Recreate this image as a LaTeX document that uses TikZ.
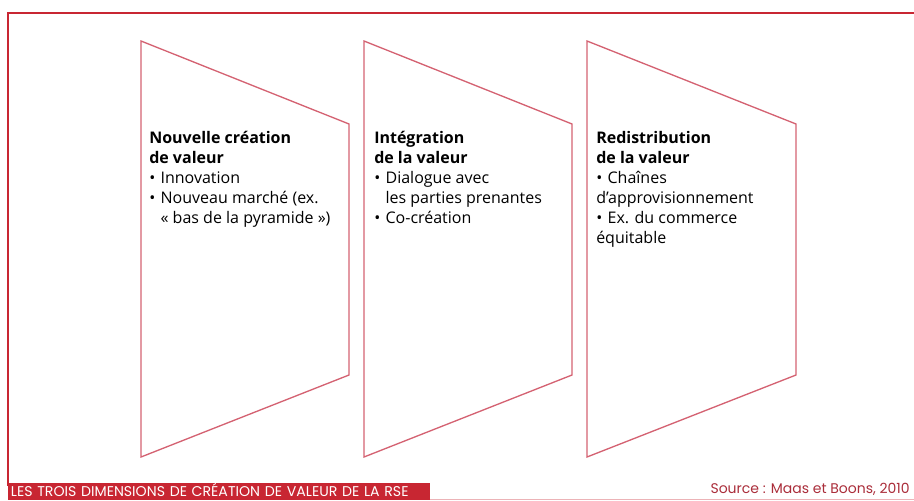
\documentclass[tikz,border=0pt]{standalone}
\usepackage{fontspec}
\setmainfont{Open Sans}
\newfontfamily\capfont{Poppins}
\usetikzlibrary{positioning}

\definecolor{framered}{RGB}{200,38,50}
\definecolor{panelred}{RGB}{212,98,114}
\definecolor{srcred}{RGB}{170,45,58}

\newcommand{\bul}{\textbullet\hspace{4pt}}

\begin{document}
\begin{tikzpicture}[x=0.75pt,y=0.75pt,yscale=-1,xscale=1,
  panel/.style={draw=panelred,line width=1pt,line join=miter},
  paneltext/.style={anchor=north west,align=left,inner sep=0pt,
    font=\fontsize{12}{15}\selectfont}]
\useasboundingbox (0,0) rectangle (914,500);

%Shape: outer frame
\draw [framered,line width=1.6pt] (914,13) -- (8,13) -- (8,486) ;
\draw [framered!35,line width=0.6pt] (430,499) -- (914,499) ;

%Shape: panel 1
\draw [panel] (141,41) -- (349,124) -- (349,375) -- (141,457) -- cycle ;
%Shape: panel 2
\draw [panel] (364,41) -- (572,124) -- (572,375) -- (364,457) -- cycle ;
%Shape: panel 3
\draw [panel] (587,41) -- (796,124) -- (796,375) -- (587,457) -- cycle ;

% Text Node
\node [paneltext] (creation) at (149,131) {\textbf{Nouvelle création}\\\textbf{de valeur}\\
  \bul Innovation\\
  \bul Nouveau marché (ex.\\
  \phantom{\bul}«~bas de la pyramide~»)};
% Text Node
\node [paneltext] (integration) at (374,131) {\textbf{Intégration}\\\textbf{de la valeur}\\
  \bul Dialogue avec\\
  \phantom{\bul}les parties prenantes\\
  \bul Co-création};
% Text Node
\node [paneltext] (redistribution) at (596,131) {\textbf{Redistribution}\\\textbf{de la valeur}\\
  \bul Chaînes\\
  d’approvisionnement\\
  \bul Ex. du commerce\\
  équitable};

% Caption
\node [fill=framered,text=white,anchor=south west,inner xsep=2pt,inner ysep=2.5pt,
  text height=7.8pt,text depth=0pt,minimum width=316pt,align=left,text width=312pt,
  font=\capfont\fontsize{10.6}{11}\selectfont] (caption) at (8,500)
  {LES TROIS DIMENSIONS DE CRÉATION DE VALEUR DE LA RSE};
% Source
\node [anchor=base east,inner sep=0pt,text=srcred,
  font=\capfont\fontsize{10.5}{12}\selectfont] (source) at (910,493)
  {Source : Maas et Boons, 2010};

\end{tikzpicture}
\end{document}
